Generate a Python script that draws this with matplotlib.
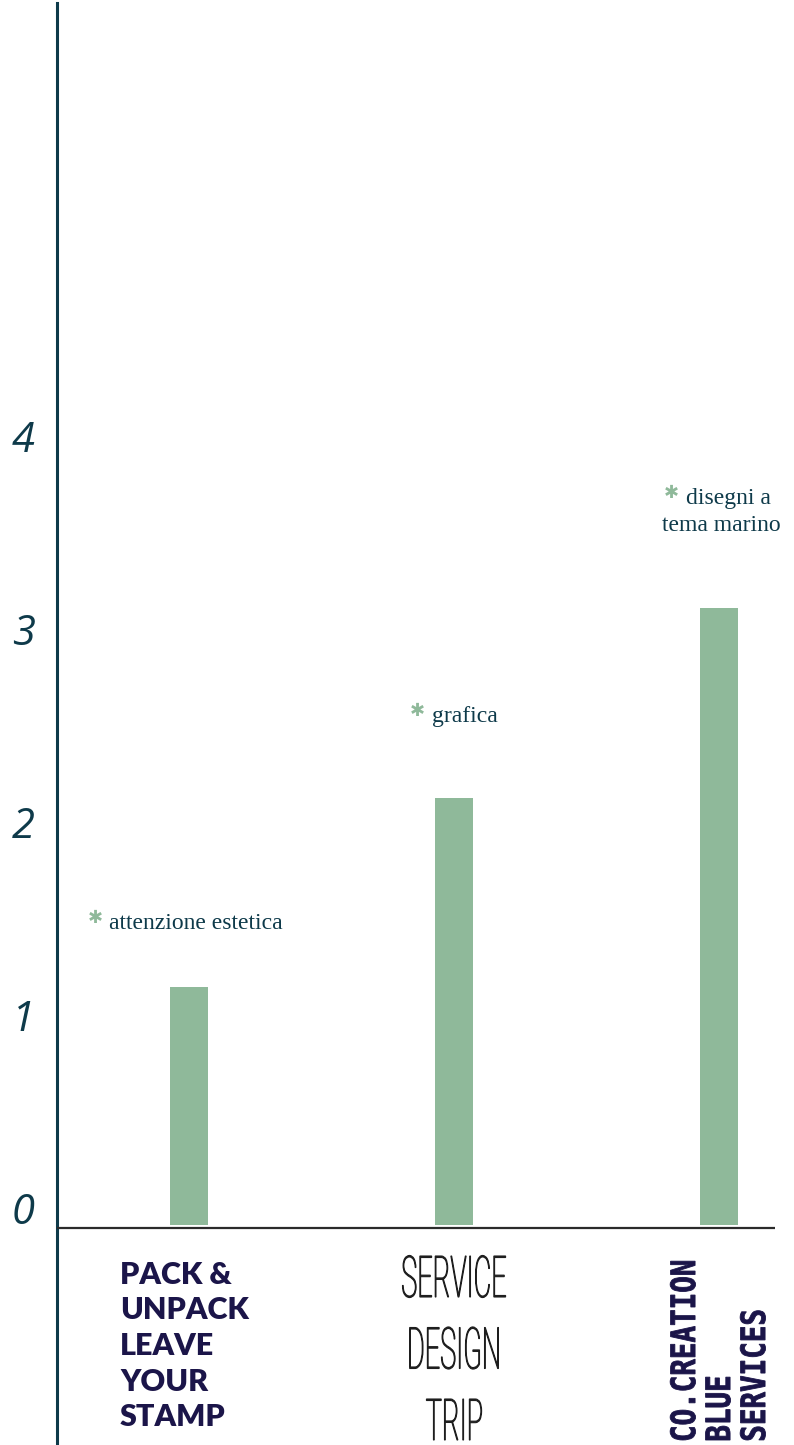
import matplotlib
matplotlib.use("Agg")
import numpy as np
from matplotlib import pyplot as plt
from matplotlib import transforms
from matplotlib.textpath import TextPath
from matplotlib.patches import PathPatch
from matplotlib.font_manager import FontProperties

# data
categories = ["PACK &\nUNPACK\nLEAVE\nYOUR\nSTAMP", "SERVICE\nDESIGN\nTRIP", "CO.CREATION\nBLUE\nSERVICES"]
values = [1.235, 2.215, 3.195]
notes = [["attenzione estetica"], ["grafica"], ["disegni a", "tema marino"]]
yticks = [0, 1, 2, 3, 4]

GREEN = "#8fb99a"
TEAL = "#0e3a4a"
NAVY = "#1b1549"

fig = plt.figure(figsize=(7.94, 14.45), dpi=100)
ax = fig.add_axes([57 / 794, 0, (775 - 57) / 794, 1442 / 1445])

x = np.arange(len(values))
ax.bar(x, values, width=0.143, bottom=0.015, color=GREEN, zorder=2)

ax.set_xlim(-0.498, 2.211)
ax.set_ylim(-217 / 193, 1225 / 193)

for s in ["top", "right", "bottom"]:
    ax.spines[s].set_visible(False)
ax.spines["left"].set_color(TEAL)
ax.spines["left"].set_linewidth(2.2)
ax.axhline(0, color="#2b2b2b", lw=1.6, zorder=3)

ax.set_xticks([])
ax.set_yticks(yticks)
ax.set_yticklabels([str(t) for t in yticks], fontsize=30, style="italic",
                   family="Open Sans", color=TEAL)
ax.tick_params(axis="y", length=0, pad=16)
up = transforms.ScaledTranslation(0, 20 / 100, fig.dpi_scale_trans)
for lab in ax.get_yticklabels():
    lab.set_transform(lab.get_transform() + up)


def path_text(s, fp, bx, by, cap_px, squeeze, color, rot=0, ha="center", lw=0):
    # text drawn as a path so it can be squeezed sideways (pixel units)
    tp = TextPath((0, 0), s, size=100, prop=fp)
    cap = TextPath((0, 0), "H", size=100, prop=fp).get_extents().height
    ext = tp.get_extents()
    sy = cap_px / cap
    sx = sy * squeeze
    x0 = ext.x0 + (ext.width / 2 if ha == "center" else 0)
    tr = transforms.Affine2D().translate(-x0, 0).scale(sx, sy).rotate_deg(rot).translate(bx, by)
    fig.add_artist(PathPatch(tp, facecolor=color, edgecolor=color, lw=lw, transform=tr))


# category 1
ax.text(-0.26, -0.17, categories[0], ha="left", va="top", fontsize=22,
        fontweight="heavy", family="Lato", color=NAVY, linespacing=1.33)

# category 2, thin condensed
fp_thin = FontProperties(family="Roboto", weight="light")
cx, cy = ax.transData.transform((1, 0))
for k, line in enumerate(categories[1].split("\n")):
    path_text(line, fp_thin, cx, cy - 69 - 71.5 * k, 41, 0.47, "#1e1e1e", lw=0.8)

# category 3, bold mono, rotated
fp_bold = FontProperties(family="DejaVu Sans Mono", weight="bold")
cx, cy = ax.transData.transform((2, 0))
for k, line in enumerate(categories[2].split("\n")):
    path_text(line, fp_bold, cx - 24 + 35 * k, cy - 212, 24.5, 0.82, NAVY, rot=90,
              ha="left", lw=0.6)

# notes above bars: (x offset, y offset) of the first baseline, in data units
note_pos = [(-0.30, 0.315), (-0.085, 0.405), (0.0, 0.555)]
for i, (lines, (dx, dy)) in enumerate(zip(notes, note_pos)):
    base = values[i] + dy
    if len(lines) == 1:
        ax.text(i + dx, base, lines[0], ha="left", va="baseline",
                fontsize=17, family="Liberation Serif", color=TEAL)
        star_x = i + dx - 0.024
    else:
        ax.text(i + dx + 0.035, base, lines[0], ha="center", va="baseline",
                fontsize=17, family="Liberation Serif", color=TEAL)
        ax.text(i + dx + 0.007, base - 0.14, lines[1], ha="center", va="baseline",
                fontsize=17, family="Liberation Serif", color=TEAL)
        star_x = i + dx - 0.152
    ax.text(star_x, base + 0.058, "\u2731", ha="right", va="center",
            fontsize=13, family="DejaVu Sans", color=GREEN)

fig.savefig("out.png", dpi=100)
